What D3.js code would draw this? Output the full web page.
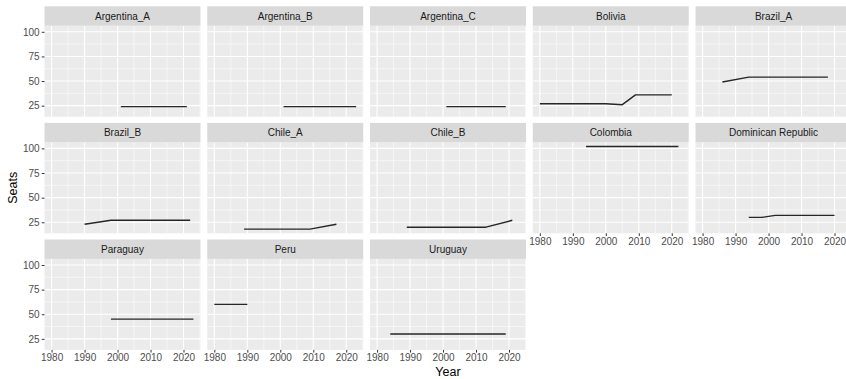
<!DOCTYPE html>
<html>
<head>
<meta charset="utf-8">
<script src="https://cdn.jsdelivr.net/npm/d3@7"></script>
<style>
  html, body { margin: 0; padding: 0; background: #ffffff; }
  svg { display: block; font-family: "Liberation Sans", Arial, sans-serif; }
</style>
</head>
<body>
<svg id="chart" width="846" height="379"></svg>
<script>
// Facet names, in panel order
const facets = [
  "Argentina_A", "Argentina_B", "Argentina_C", "Bolivia", "Brazil_A",
  "Brazil_B", "Chile_A", "Chile_B", "Colombia", "Dominican Republic",
  "Paraguay", "Peru", "Uruguay"
];

// Election years per facet
const facetYears = [
  [2001, 2021],
  [2001, 2023],
  [2001, 2019],
  [1980, 2000, 2005, 2009, 2020],
  [1986, 1994, 2018],
  [1990, 1998, 2022],
  [1989, 2009, 2017],
  [1989, 2013, 2021],
  [1994, 2022],
  [1994, 1998, 2002, 2020],
  [1998, 2023],
  [1980, 1990],
  [1984, 2019]
];

// Seats per facet, aligned with facetYears
const facetSeats = [
  [24, 24],
  [24, 24],
  [24, 24],
  [27, 27, 26, 36, 36],
  [49, 54, 54],
  [23, 27, 27],
  [18, 18, 23],
  [20, 20, 27],
  [102, 102],
  [30, 30, 32, 32],
  [45, 45],
  [60, 60],
  [30, 30]
];

const xTicks = [1980, 1990, 2000, 2010, 2020];
const xMinor = [1985, 1995, 2005, 2015, 2025];
const yTicks = [25, 50, 75, 100];
const yMinor = [37.5, 62.5, 87.5];

// Layout of the facet grid
const nCols = 5;
const left0 = 44.5, top0 = 6.3;
const panelW = 156, panelH = 91, stripH = 19.4;
const pitchX = 162.75, pitchY = 116.6;
const nRows = Math.ceil(facets.length / nCols);

// Shared scales with 5% padding around the data range
const allYears = facetYears.flat(), allSeats = facetSeats.flat();
const xMin = d3.min(allYears), xMax = d3.max(allYears);
const yMin = d3.min(allSeats), yMax = d3.max(allSeats);
const xPad = (xMax - xMin) * 0.05, yPad = (yMax - yMin) * 0.05;
const x = d3.scaleLinear().domain([xMin - xPad, xMax + xPad]).range([0, panelW]);
const y = d3.scaleLinear().domain([yMin - yPad, yMax + yPad]).range([panelH, 0]);

const svg = d3.select("#chart");
const line = d3.line().x(d => x(d[0])).y(d => y(d[1]));

facets.forEach((name, i) => {
  const col = i % nCols, row = Math.floor(i / nCols);
  const px = left0 + col * pitchX;
  const py = top0 + row * pitchY + stripH;
  const g = svg.append("g").attr("transform", `translate(${px},${py})`);

  // strip
  svg.append("rect")
    .attr("x", px).attr("y", py - stripH)
    .attr("width", panelW).attr("height", stripH)
    .attr("fill", "#d9d9d9");
  svg.append("text")
    .attr("x", px + panelW / 2).attr("y", py - stripH / 2)
    .attr("dy", "0.35em").attr("text-anchor", "middle")
    .attr("font-size", 10).attr("fill", "#1a1a1a")
    .text(name);

  // panel background and grid
  g.append("rect").attr("width", panelW).attr("height", panelH).attr("fill", "#ebebeb");
  g.selectAll(".vmin").data(xMinor.filter(v => x(v) >= 0 && x(v) <= panelW)).join("line")
    .attr("x1", d => x(d)).attr("x2", d => x(d)).attr("y1", 0).attr("y2", panelH)
    .attr("stroke", "#ffffff").attr("stroke-width", 0.55);
  g.selectAll(".hmin").data(yMinor).join("line")
    .attr("y1", d => y(d)).attr("y2", d => y(d)).attr("x1", 0).attr("x2", panelW)
    .attr("stroke", "#ffffff").attr("stroke-width", 0.55);
  g.selectAll(".vmaj").data(xTicks).join("line")
    .attr("x1", d => x(d)).attr("x2", d => x(d)).attr("y1", 0).attr("y2", panelH)
    .attr("stroke", "#ffffff").attr("stroke-width", 1.1);
  g.selectAll(".hmaj").data(yTicks).join("line")
    .attr("y1", d => y(d)).attr("y2", d => y(d)).attr("x1", 0).attr("x2", panelW)
    .attr("stroke", "#ffffff").attr("stroke-width", 1.1);

  // series line
  const pts = facetYears[i].map((yr, k) => [yr, facetSeats[i][k]]);
  g.append("path").attr("d", line(pts))
    .attr("fill", "none").attr("stroke", "#262626").attr("stroke-width", 1.4)
    .attr("stroke-linejoin", "round");

  // y axis on the first column
  if (col === 0) {
    const ya = g.append("g")
      .call(d3.axisLeft(y).tickValues(yTicks).tickSize(2.7).tickPadding(2.2));
    ya.select(".domain").remove();
    ya.selectAll("line").attr("stroke", "#333333").attr("stroke-width", 1);
    ya.selectAll("text").attr("font-size", 10).attr("fill", "#4d4d4d")
      .attr("font-family", "Liberation Sans, Arial, sans-serif");
  }

  // x axis on the lowest panel of each column
  const below = i + nCols;
  if (below >= facets.length) {
    const xa = g.append("g").attr("transform", `translate(0,${panelH})`)
      .call(d3.axisBottom(x).tickValues(xTicks).tickFormat(d3.format("d")).tickSize(2.7).tickPadding(1.5));
    xa.select(".domain").remove();
    xa.selectAll("line").attr("stroke", "#333333").attr("stroke-width", 1);
    xa.selectAll("text").attr("font-size", 10).attr("fill", "#4d4d4d")
      .attr("font-family", "Liberation Sans, Arial, sans-serif");
  }
});

// axis titles
const panelsTop = top0 + stripH;
const panelsBottom = top0 + (nRows - 1) * pitchY + stripH + panelH;
svg.append("text")
  .attr("transform", `translate(13,${(panelsTop + panelsBottom) / 2}) rotate(-90)`)
  .attr("text-anchor", "middle").attr("dy", "0.35em")
  .attr("font-size", 12.5).attr("fill", "#000000")
  .text("Seats");
svg.append("text")
  .attr("x", left0 + ((nCols - 1) * pitchX + panelW) / 2)
  .attr("y", 371.5).attr("dy", "0.35em")
  .attr("text-anchor", "middle")
  .attr("font-size", 12.5).attr("fill", "#000000")
  .text("Year");
</script>
</body>
</html>
